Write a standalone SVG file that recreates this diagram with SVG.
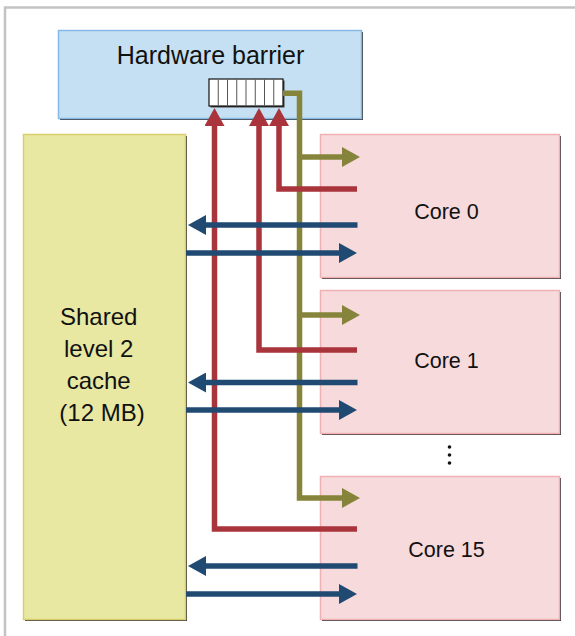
<svg xmlns="http://www.w3.org/2000/svg" width="575" height="636" viewBox="0 0 575 636">
  <style>
    .frame { fill: none; stroke: #c3c3c3; stroke-width: 2.5; }
    .shadow { fill: #3c3c3c; }
    .barrier { fill: #c4e0f2; stroke: #86b9e3; stroke-width: 1.5; }
    .l2 { fill: #e8e8a3; stroke: #d8cf6c; stroke-width: 1.5; }
    .core { fill: #f7dadb; stroke: #efb1b3; stroke-width: 1.5; }
    .reg { fill: #ffffff; stroke: #111111; stroke-width: 1.2; }
    .cell { stroke: #555555; stroke-width: 1; }
    .label { font-family: "Liberation Sans", Arial, sans-serif; fill: #111111; text-anchor: middle; }
    .wire { fill: none; stroke-width: 5.5; stroke-linejoin: miter; }
    .red { stroke: #a9343c; }
    .olive { stroke: #86843a; }
    .blue { stroke: #204a72; }
  </style>
  <defs>
    <marker id="head-red" markerUnits="userSpaceOnUse" viewBox="0 0 18 20" markerWidth="18" markerHeight="20" refX="2" refY="10" orient="auto">
      <path d="M0,0 L18,10 L0,20 z" fill="#a9343c"/>
    </marker>
    <marker id="head-olive" markerUnits="userSpaceOnUse" viewBox="0 0 18 20" markerWidth="18" markerHeight="20" refX="2" refY="10" orient="auto">
      <path d="M0,0 L18,10 L0,20 z" fill="#86843a"/>
    </marker>
    <marker id="head-blue" markerUnits="userSpaceOnUse" viewBox="0 0 18 20" markerWidth="18" markerHeight="20" refX="2" refY="10" orient="auto">
      <path d="M0,0 L18,10 L0,20 z" fill="#204a72"/>
    </marker>
  </defs>

  <!-- page frame: top and left rule -->
  <path class="frame" d="M5,636 V7.5 H575"/>

  <g id="node-barrier">
    <rect class="shadow" x="60" y="32" width="303" height="88"/>
    <rect class="barrier" x="58.5" y="30.5" width="303" height="88"/>
    <text class="label" x="210.5" y="64" font-size="25">Hardware barrier</text>
  </g>

  <g id="node-register">
    <rect class="shadow" x="210.5" y="80.5" width="74" height="27"/>
    <rect class="reg" x="209" y="79" width="74" height="27"/>
    <path class="cell" d="M218.25,79.5 V105.5 M227.5,79.5 V105.5 M236.75,79.5 V105.5 M246,79.5 V105.5 M255.25,79.5 V105.5 M264.5,79.5 V105.5 M273.75,79.5 V105.5"/>
  </g>

  <g id="node-l2">
    <rect class="shadow" x="25" y="136" width="162" height="485"/>
    <rect class="l2" x="23.5" y="134.5" width="162" height="485"/>
    <text class="label" font-size="24">
      <tspan x="102" y="324.5">Shared</tspan>
      <tspan x="102" y="356.5">level 2</tspan>
      <tspan x="102" y="389">cache</tspan>
      <tspan x="102" y="421">(12 MB)</tspan>
    </text>
  </g>

  <g id="node-core0">
    <rect class="shadow" x="322" y="136" width="239" height="143"/>
    <rect class="core" x="320.5" y="134.5" width="239" height="143"/>
    <text class="label" x="446.5" y="219" font-size="21.5">Core 0</text>
  </g>

  <g id="node-core1">
    <rect class="shadow" x="322" y="292" width="239" height="143"/>
    <rect class="core" x="320.5" y="290.5" width="239" height="143"/>
    <text class="label" x="446.5" y="368" font-size="21.5">Core 1</text>
  </g>

  <g id="ellipsis" fill="#111111">
    <circle cx="449.5" cy="447" r="1.8"/>
    <circle cx="449.5" cy="455" r="1.8"/>
    <circle cx="449.5" cy="463" r="1.8"/>
  </g>

  <g id="node-core15">
    <rect class="shadow" x="322" y="478" width="239" height="143"/>
    <rect class="core" x="320.5" y="476.5" width="239" height="143"/>
    <text class="label" x="446.5" y="557" font-size="21.5">Core 15</text>
  </g>

  <g id="connectors">
    <!-- barrier release: register to every core -->
    <path class="wire olive" d="M283,93.3 H299.5 V498 H344" marker-end="url(#head-olive)"/>
    <path class="wire olive" d="M299.5,157 H344" marker-end="url(#head-olive)"/>
    <path class="wire olive" d="M299.5,315 H344" marker-end="url(#head-olive)"/>

    <!-- barrier arrival: each core to the register -->
    <path class="wire red" d="M357,189 H279 V124" marker-end="url(#head-red)"/>
    <path class="wire red" d="M357,350 H259 V124" marker-end="url(#head-red)"/>
    <path class="wire red" d="M357,529 H214.5 V124" marker-end="url(#head-red)"/>

    <!-- L2 cache traffic -->
    <path class="wire blue" d="M357.5,225 H204" marker-end="url(#head-blue)"/>
    <path class="wire blue" d="M186,253 H341" marker-end="url(#head-blue)"/>
    <path class="wire blue" d="M357.5,382.5 H204" marker-end="url(#head-blue)"/>
    <path class="wire blue" d="M186,410 H341" marker-end="url(#head-blue)"/>
    <path class="wire blue" d="M357.5,566 H204" marker-end="url(#head-blue)"/>
    <path class="wire blue" d="M186,594 H341" marker-end="url(#head-blue)"/>
  </g>
</svg>
